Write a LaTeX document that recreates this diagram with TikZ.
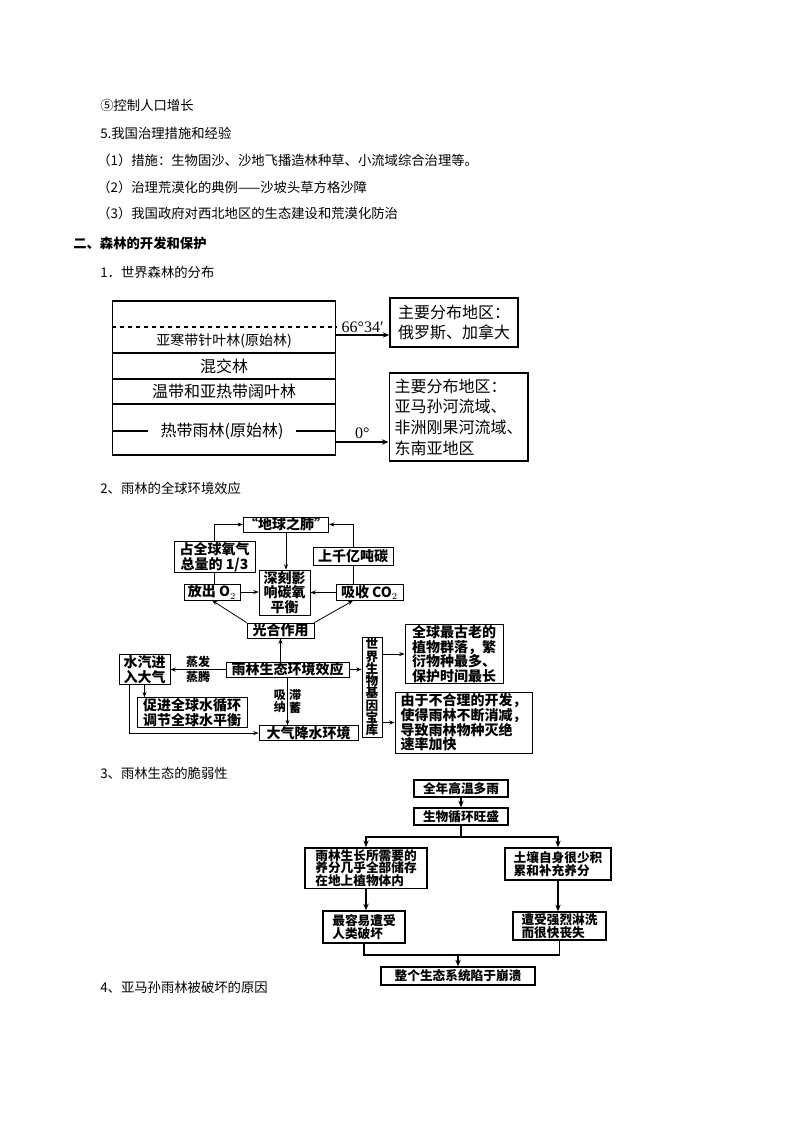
\documentclass[tikz,border=0pt]{standalone}
\usepackage{fontspec}
\setmainfont{Noto Sans CJK SC}
\newfontfamily\tnr{Liberation Serif}
\usepackage{tikz}
\usetikzlibrary{arrows.meta,positioning,calc}

\begin{document}
\begin{tikzpicture}[
  x=0.75pt, y=-0.75pt,
  linetext/.style={anchor=west, inner sep=0pt, font=\fontsize{10}{12}\selectfont},
  zonetext/.style={inner sep=0pt, font=\fontsize{12}{14}\selectfont},
  distbox/.style={draw, line width=1pt, align=left, inner xsep=4pt,
                  font=\fontsize{12}{15.5}\selectfont},
  effbox/.style={draw, line width=0.6pt, align=center, inner sep=0.5pt,
                 font=\bfseries\fontsize{10.5}{11}\selectfont},
  fragbox/.style={draw, line width=1pt, align=left, inner sep=1pt,
                  font=\bfseries\fontsize{9.5}{9.6}\selectfont},
  arr/.style={-{Stealth[length=5pt,width=4pt]}, line width=1pt},
  thinarr/.style={-{Stealth[length=4pt,width=3pt]}, line width=0.6pt},
  lbl/.style={inner sep=1pt, align=center, font=\bfseries\fontsize{9}{9.5}\selectfont},
]
\path[fill=white] (0,0) rectangle (794,1123);

% Page text
\node[linetext] (item5) at (100,105) {⑤控制人口增长};
\node[linetext] (sec5) at (100,133) {5.我国治理措施和经验};
\node[linetext] (m1) at (97,160) {（1）措施：生物固沙、沙地飞播造林种草、小流域综合治理等。};
\node[linetext] (m2) at (97,187) {（2）治理荒漠化的典例——沙坡头草方格沙障};
\node[linetext] (m3) at (97,213) {（3）我国政府对西北地区的生态建设和荒漠化防治};
\node[linetext, font=\bfseries\fontsize{10}{12}\selectfont] (part2) at (73,243) {二、森林的开发和保护};
\node[linetext] (h1) at (100,272) {1．世界森林的分布};
\node[linetext] (h2) at (100,488) {2、雨林的全球环境效应};
\node[linetext] (h3) at (100,773) {3、雨林生态的脆弱性};
\node[linetext] (h4) at (100,987) {4、亚马孙雨林被破坏的原因};

% World forest zones
\node[draw, line width=1pt, minimum width=167.25pt, minimum height=115.5pt] (forest) at (224,378) {};
\draw[dashed, line width=0.8pt] (forest.west |- 0,327) -- (forest.east |- 0,327);
\draw[line width=0.8pt] (forest.west |- 0,353) -- (forest.east |- 0,353);
\draw[line width=0.8pt] (forest.west |- 0,379) -- (forest.east |- 0,379);
\draw[line width=0.8pt] (forest.west |- 0,404) -- (forest.east |- 0,404);
\node[zonetext, font=\fontsize{10.5}{12}\selectfont] (boreal) at (224,341) {亚寒带针叶林(原始林)};
\node[zonetext] (mixed) at (224,366) {混交林};
\node[zonetext] (broad) at (224,391) {温带和亚热带阔叶林};
\node[zonetext, inner xsep=9pt] (tropic) at (222,431) {热带雨林(原始林)};
\draw[line width=1pt] (forest.west |- tropic) -- (tropic.west);
\draw[line width=1pt] (tropic.east) -- (forest.east |- tropic);

\node[distbox, minimum width=96pt, minimum height=36.75pt] (dist1) at (454,322.5)
  {主要分布地区：\\俄罗斯、加拿大};
\node[distbox, minimum width=102.75pt, minimum height=66pt] (dist2) at (458.5,417)
  {主要分布地区：\\亚马孙河流域、\\非洲刚果河流域、\\东南亚地区};
\coordinate (lat66) at (336,335);
\coordinate (lat0) at (336,442);
\draw[arr] (lat66) -- node[above, inner sep=1pt, font=\tnr\fontsize{12}{14}\selectfont] {66°34′} (lat66 -| dist1.west);
\draw[arr] (lat0) -- node[above, inner sep=2pt, font=\tnr\fontsize{12}{14}\selectfont] {0°} (lat0 -| dist2.west);

% Global effects of the rainforest
\node[effbox, minimum width=61.5pt, minimum height=11.25pt] (lung) at (286,524.5) {“地球之肺”};
\node[effbox, minimum width=60.75pt, minimum height=22.5pt] (oxy) at (214.5,557) {占全球氧气\\总量的 1/3};
\node[effbox, minimum width=42pt, minimum height=12pt] (relO2) at (212,592) {放出 O$_2$};
\node[effbox, minimum width=38.25pt, minimum height=33.75pt] (balance) at (284.5,592.5) {深刻影\\响碳氧\\平衡};
\node[effbox, minimum width=60pt, minimum height=13.5pt] (carbon) at (353,556) {上千亿吨碳};
\node[effbox, minimum width=50.25pt, minimum height=11.25pt] (absCO2) at (369.5,592.5) {吸收 CO$_2$};
\node[effbox, minimum width=50.25pt, minimum height=11.25pt] (photo) at (280.5,630.5) {光合作用};
\node[effbox, minimum width=92.25pt, minimum height=11.25pt] (effect) at (287.5,669.5) {雨林生态环境效应};
\node[effbox, minimum width=38.25pt, minimum height=21.75pt] (vapor) at (144.5,669.5) {水汽进\\入大气};
\node[effbox, minimum width=82.5pt, minimum height=21.75pt] (watercyc) at (192,712.5) {促进全球水循环\\调节全球水平衡};
\node[effbox, minimum width=74.25pt, minimum height=10.5pt] (rain) at (308.5,733) {大气降水环境};
\node[effbox, minimum width=15pt, minimum height=75pt, font=\bfseries\fontsize{9.5}{9.2}\selectfont] (genebank) at (372,687)
  {世\\界\\生\\物\\基\\因\\宝\\库};
\node[effbox, align=left, minimum width=73.5pt, minimum height=43.5pt] (oldest) at (454,654)
  {全球最古老的\\植物群落，繁\\衍物种最多、\\保护时间最长};
\node[effbox, align=left, minimum width=102.75pt, minimum height=45.75pt] (threat) at (463.5,722.5)
  {由于不合理的开发，\\使得雨林不断消减，\\导致雨林物种灭绝\\速率加快};

\draw[thinarr] (oxy.north) |- (lung.west);
\draw[line width=0.6pt] (oxy.south) -- (oxy.south |- relO2.north);
\draw[thinarr] (carbon.north) |- (lung.east);
\draw[line width=0.6pt] (carbon.south) -- (carbon.south |- absCO2.north);
\draw[thinarr] (lung.south) -- (lung.south |- balance.north);
\draw[thinarr] (relO2.east) -- (relO2.east -| balance.west);
\draw[thinarr] (absCO2.west) -- (absCO2.west -| balance.east);
\draw[thinarr] (photo.north west) -- (relO2.south);
\draw[thinarr] (photo.north east) -- (absCO2.south -| carbon);
\draw[thinarr] (effect.north -| photo) -- (photo.south);
\draw[thinarr] (effect.west) -- node[lbl, above] {蒸发} node[lbl, below] {蒸腾} (vapor.east);
\draw[thinarr] (vapor.south) -- (vapor.south |- watercyc.north);
\draw[thinarr] ([xshift=-11.25pt]vapor.south) |- (rain.west);
\draw[thinarr] (effect.south) -- node[lbl, left] {吸\\纳} node[lbl, right] {滞\\蓄} (effect.south |- rain.north);
\draw[thinarr] (effect.east) -- (effect.east -| genebank.west);
\draw[thinarr] (genebank.east |- oldest) -- (oldest.west);
\draw[thinarr] (genebank.east |- threat) -- (threat.west);

% Fragility of the rainforest ecosystem
\node[fragbox, align=center, minimum width=70.5pt, minimum height=12.75pt] (hot) at (461,788.5) {全年高温多雨};
\node[fragbox, align=center, minimum width=70.5pt, minimum height=12.75pt] (biocyc) at (461,816.5) {生物循环旺盛};
\node[fragbox, minimum width=91.5pt, minimum height=30pt] (store) at (366,868)
  {雨林生长所需要的\\养分几乎全部储存\\在地上植物体内};
\node[fragbox, minimum width=79.5pt, minimum height=24pt] (soil) at (558,864)
  {土壤自身很少积\\累和补充养分};
\node[fragbox, minimum width=61.5pt, minimum height=24pt] (human) at (364,927)
  {最容易遭受\\人类破坏};
\node[fragbox, minimum width=69.75pt, minimum height=21pt] (leach) at (559.5,926)
  {遭受强烈淋洗\\而很快丧失};
\node[fragbox, align=center, minimum width=115.5pt, minimum height=13.5pt] (collapse) at (458,976)
  {整个生态系统陷于崩溃};
\coordinate (split) at (461,837);
\coordinate (join) at (458,955);

\draw[arr] (hot) -- (biocyc);
\draw[line width=1pt] (biocyc.south) -- (split);
\draw[arr] (split) -| (store.north);
\draw[arr] (split) -| (soil.north);
\draw[arr] (store.south) -- (store.south |- human.north);
\draw[arr] (soil.south) -- (soil.south |- leach.north);
\draw[line width=1pt] (human.south) |- (join);
\draw[line width=1pt] (leach.south) |- (join);
\draw[arr] (join) -- (collapse.north);

\end{tikzpicture}
\end{document}
